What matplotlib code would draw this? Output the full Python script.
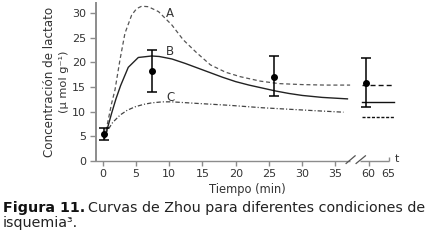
import matplotlib
matplotlib.use("Agg")
import matplotlib.pyplot as plt
import numpy as np

# ---------------- data ----------------
curve_a_t = [0.3, 1.35, 1.85, 2.6, 3.35, 4.36, 5.1, 5.87, 6.86, 8.4, 10.4, 12.1,
             14.1, 16.2, 18.5, 20.7, 23.7, 26.5, 30.0, 33.5, 37.2]
curve_a_y = [4.8, 11.7, 14.4, 20.5, 25.9, 29.6, 30.9, 31.4, 31.3, 30.3, 27.6, 24.6,
             22.0, 19.5, 18.0, 17.1, 16.2, 15.7, 15.5, 15.4, 15.4]

curve_b_t = [0.3, 1.35, 2.0, 2.7, 3.85, 5.36, 7.37, 8.5, 10.4, 12.4, 14.0, 16.0,
             18.0, 20.0, 22.0, 24.0, 26.0, 28.0, 30.0, 33.0, 36.8]
curve_b_y = [4.6, 9.7, 12.6, 15.3, 19.0, 21.0, 21.3, 21.2, 20.7, 19.8, 19.0, 18.0,
             17.0, 16.1, 15.4, 14.8, 14.2, 13.7, 13.3, 12.9, 12.6]

curve_c_t = [0.3, 0.6, 1.5, 2.6, 3.7, 4.9, 6.2, 7.4, 9.0, 10.4, 14.0, 19.0,
             24.0, 28.0, 32.0, 36.2]
curve_c_y = [4.8, 5.9, 7.8, 9.3, 10.3, 11.0, 11.5, 11.8, 12.0, 12.0, 11.7, 11.3,
             10.8, 10.5, 10.2, 9.9]

# levels reached after the axis break (t ~ 60 min)
late_t = [58.3, 66.3]
late_a = 15.5
late_b = 12.0
late_c = 8.9

# measured points with error bars
pts_t = [0.2, 7.4, 25.7, 59.3]
pts_y = [5.5, 18.3, 17.1, 15.9]
pts_lo = [4.3, 13.9, 13.1, 10.9]
pts_hi = [6.75, 22.6, 21.2, 20.8]

x_ticks = [0, 5, 10, 15, 20, 25, 30, 35, 60, 65]
y_ticks = [0, 5, 10, 15, 20, 25, 30]
curve_labels = ["A", "B", "C"]
curve_label_pos = [(9.5, 30.0), (9.5, 22.2), (9.6, 12.9)]

# ---------------- broken time axis mapping ----------------
def tx(t):
    t = np.asarray(t, dtype=float)
    return np.where(t <= 45, t, 40.0 + (t - 60.0) * 0.6)

W, H = 447, 248
fig = plt.figure(figsize=(W / 100, H / 100), dpi=100)
ax_l, ax_r, ax_b, ax_t = 96, 400, 161, 3
ax = fig.add_axes([ax_l / W, 1 - ax_b / H, (ax_r - ax_l) / W, (ax_b - ax_t) / H])
ax.set_xlim(-1.0, 44.7)
ax.set_ylim(0, 32.05)
ax.patch.set_alpha(0)

txt = "#333333"
spine_c = "#8c8c8c"
font = "DejaVu Sans"

# spines
for s in ["top", "right", "bottom"]:
    ax.spines[s].set_visible(False)
ax.spines["left"].set_color(spine_c)
ax.spines["left"].set_linewidth(1.4)

# y ticks
ax.set_yticks(y_ticks)
ax.set_yticklabels([str(v) for v in y_ticks], fontsize=8, color=txt, family=font)
ax.tick_params(axis="y", length=4, width=1.0, color=spine_c, pad=3)

# x ticks
ax.set_xticks(tx(x_ticks))
ax.set_xticklabels([str(v) for v in x_ticks], fontsize=8, color=txt, family=font)
ax.tick_params(axis="x", length=3.5, width=1.0, color=spine_c, pad=2)
ax.xaxis.get_major_ticks()[-1].tick1line.set_visible(False)

# manual x axis line with break
kw = dict(color=spine_c, lw=1.0, clip_on=False, solid_capstyle="butt")
ax.plot([-1.0, 37.2], [0, 0], **kw)
ax.plot([38.7, float(tx(65))], [0, 0], **kw)
ax.plot([float(tx(65))] * 2, [0, 0.8], **kw)
ax.plot([36.6, 37.95], [-0.5, 1.05], color="#555555", lw=0.9, clip_on=False)
ax.plot([38.1, 39.5], [-0.5, 1.05], color="#555555", lw=0.9, clip_on=False)
ax.text(float(tx(65)) + 0.9, 0.5, "t", fontsize=8, color=txt, family=font,
        ha="left", va="center")

# curves
ax.plot(tx(curve_a_t), curve_a_y, color="#555555", lw=0.9, dashes=(3.2, 2.2))
ax.plot(tx(curve_b_t), curve_b_y, color="#222222", lw=1.0)
ax.plot(tx(curve_c_t), curve_c_y, color="#444444", lw=0.9, dashes=(3.5, 1.6, 0.9, 1.6))

ax.plot(tx(late_t), [late_a] * 2, color="#111111", lw=1.0, dashes=(3.6, 2.2))
ax.plot(tx(late_t), [late_b] * 2, color="#111111", lw=1.0)
ax.plot(tx(late_t), [late_c] * 2, color="#111111", lw=1.0, dashes=(2.2, 1.2))

for lab, (lx, ly) in zip(curve_labels, curve_label_pos):
    ax.text(lx, ly, lab, fontsize=8.5, color=txt, family=font, ha="left", va="center")

# error bars
py = np.array(pts_y)
yerr = [py - np.array(pts_lo), np.array(pts_hi) - py]
ax.errorbar(tx(pts_t), py, yerr=yerr, fmt="o", color="black", ms=4, lw=1.1,
            capsize=3.3, capthick=1.1)

# labels
fig.text(50 / W, 1 - 82 / H, "Concentración de lactato", rotation=90, fontsize=8.6,
         color=txt, family=font, ha="center", va="center")
fig.text(64 / W, 1 - 82 / H, "(\u00b5 mol g\u207b\u00b9)", rotation=90, fontsize=8.2,
         color=txt, family=font, ha="center", va="center")
fig.text(247 / W, 1 - 190 / H, "Tiempo (min)", fontsize=8.3, color=txt, family=font,
         ha="center", va="center")

# caption
cap_y1 = 1 - 208 / H
cap_y2 = 1 - 223 / H
t1 = fig.text(3 / W, cap_y1, "Figura 11.", fontsize=10.3, fontweight="bold",
              color="#111111", family=font, ha="left", va="center")
fig.canvas.draw()
bb = t1.get_window_extent()
fig.text(bb.x1 / W + 3 / W, cap_y1, "Curvas de Zhou para diferentes condiciones de",
         fontsize=10.3, color="#222222", family=font, ha="left", va="center")
fig.text(3 / W, cap_y2, "isquemia\u00b3.", fontsize=10.3, color="#222222", family=font,
         ha="left", va="center")

fig.savefig("out.png", dpi=100)
